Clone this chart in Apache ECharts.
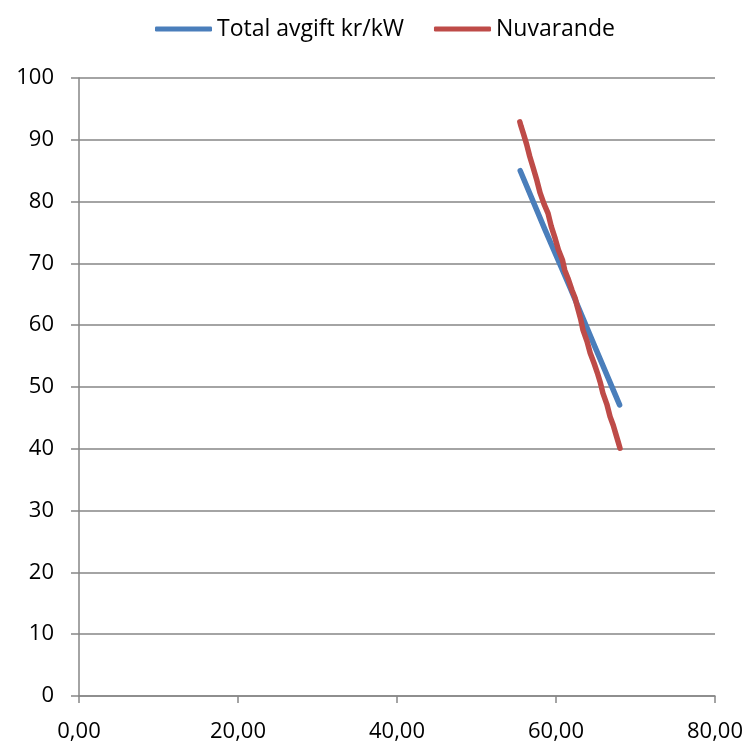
<!DOCTYPE html>
<html>
<head>
<meta charset="utf-8">
<script src="https://cdn.jsdelivr.net/npm/echarts@6/dist/echarts.min.js"></script>
<style>
  html, body { margin: 0; padding: 0; background: #fff; }
  #chart { width: 750px; height: 745px; }
</style>
</head>
<body>
<div id="chart"></div>
<script>
// Series names
const seriesNames = ['Total avgift kr/kW', 'Nuvarande'];

// Total avgift kr/kW: effect share (x) vs fee (y)
const totalX = [55.5, 58.6, 61.8, 64.9, 68.0];
const totalY = [85.0, 75.5, 66.0, 56.5, 47.1];

// Nuvarande: current fee curve
const nuvX = [55.45, 55.6, 55.9, 56.3, 56.7, 57.1, 57.6, 58.0, 58.5, 59.0, 59.4, 59.9, 60.3, 60.8, 61.1, 61.5, 62.0, 62.4, 62.7, 63.1, 63.4, 63.9, 64.3, 64.8, 65.2, 65.6, 65.9, 66.4, 66.8, 67.2, 67.5, 67.8, 68.05];
const nuvY = [92.9, 92.2, 91.0, 89.3, 87.3, 85.6, 83.4, 81.4, 79.6, 78.1, 76.0, 74.0, 72.2, 70.6, 68.9, 67.6, 65.7, 64.4, 62.9, 61.0, 59.2, 57.4, 55.5, 53.8, 52.3, 50.6, 49.0, 47.2, 45.2, 43.8, 42.5, 41.2, 40.1];

// Axis ranges and tick steps
const xMin = 0, xMax = 80, xStep = 20;
const yMin = 0, yMax = 100, yStep = 10;

function pairs(xs, ys) { return xs.map((x, i) => [x, ys[i]]); }

const font = '"Open Sans", "Noto Sans", sans-serif';
const chart = echarts.init(document.getElementById('chart'), null, { renderer: 'canvas' });

chart.setOption({
  animation: false,
  backgroundColor: '#ffffff',
  textStyle: { fontFamily: font },
  legend: {
    top: 11,
    left: 150,
    itemGap: 30,
    itemWidth: 57,
    itemHeight: 5,
    icon: 'roundRect',
    textStyle: { fontFamily: font, fontSize: 23, lineHeight: 26, color: '#000' },
    data: seriesNames
  },
  grid: { left: 79, right: 35, top: 78, bottom: 49, containLabel: false },
  xAxis: {
    type: 'value',
    min: xMin, max: xMax, interval: xStep,
    axisLine: { show: true, lineStyle: { color: '#868686', width: 1.5 } },
    axisTick: { show: true, length: 7, lineStyle: { color: '#868686', width: 1.5 } },
    splitLine: { show: false },
    axisLabel: {
      margin: 25,
      fontFamily: font, fontSize: 22, color: '#000',
      formatter: v => v.toFixed(2).replace('.', ',')
    }
  },
  yAxis: {
    type: 'value',
    min: yMin, max: yMax, interval: yStep,
    axisLine: { show: true, lineStyle: { color: '#868686', width: 1.5 } },
    axisTick: { show: true, length: 8, lineStyle: { color: '#868686', width: 1.5 } },
    splitLine: { show: true, lineStyle: { color: '#868686', width: 1.5 } },
    axisLabel: { margin: 25, fontFamily: font, fontSize: 22, color: '#000' }
  },
  series: [
    {
      name: seriesNames[0],
      type: 'line',
      data: pairs(totalX, totalY),
      showSymbol: false,
      symbol: 'none',
      color: '#4A7EBB',
      lineStyle: { width: 5.5, color: '#4A7EBB', cap: 'round', join: 'round' }
    },
    {
      name: seriesNames[1],
      type: 'line',
      data: pairs(nuvX, nuvY),
      showSymbol: false,
      symbol: 'none',
      color: '#BE4B48',
      lineStyle: { width: 5.5, color: '#BE4B48', cap: 'round', join: 'round' }
    }
  ]
});
</script>
</body>
</html>
